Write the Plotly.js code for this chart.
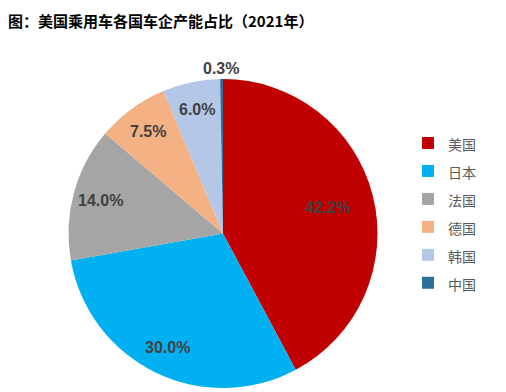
<!DOCTYPE html>
<html>
<head>
<meta charset="utf-8">
<script src="https://cdn.plot.ly/plotly-3.0.1.min.js"></script>
<style>html,body{margin:0;padding:0;background:#fff;}#chart{width:506px;height:392px;}</style>
</head>
<body>
<div id="chart"></div>
<script>
var countries = ["美国", "日本", "法国", "德国", "韩国", "中国"];
var shares = [42.2, 30.0, 14.0, 7.5, 6.0, 0.3];
var colors = ["#C00000", "#00B0F0", "#A5A5A5", "#F4B183", "#B4C7E7", "#2F6E9B"];
var titleText = "图：美国乘用车各国车企产能占比（2021年）";

var W = 506, H = 392;
// pie domain in pixels
var PX0 = 68, PX1 = 378, PY0 = 79, PY1 = 388;
var cx = (PX0 + PX1) / 2, cy = (PY0 + PY1) / 2;
var R = Math.min(PX1 - PX0, PY1 - PY0) / 2;

var legendLabels = countries.map(function (c) {
  return '<span style="font-size:14px">' + c + '</span>';
});

// data labels placed at each slice's mid-angle (clockwise from 12 o'clock)
var total = shares.reduce(function (a, b) { return a + b; }, 0);
var cum = 0;
var annotations = shares.map(function (v) {
  var mid = (cum + v / 2) / total * 2 * Math.PI;
  cum += v;
  var f = v < 1 ? 1.07 : (v > 35 ? 0.70 : 0.82);
  var px = cx + Math.sin(mid) * R * f;
  var py = cy - Math.cos(mid) * R * f;
  return {
    x: px / W, y: 1 - py / H, xref: "paper", yref: "paper",
    xanchor: "center", yanchor: "middle", showarrow: false,
    text: v.toFixed(1) + "%",
    font: { family: "Liberation Sans, Arial, sans-serif", size: 16, color: "#404040", weight: "bold" }
  };
});

var trace = {
  type: "pie",
  labels: legendLabels,
  values: shares,
  sort: false,
  direction: "clockwise",
  rotation: 0,
  marker: { colors: colors, line: { width: 0 } },
  textinfo: "none",
  hoverinfo: "none",
  domain: { x: [PX0 / W, PX1 / W], y: [1 - PY1 / H, 1 - PY0 / H] }
};

var layout = {
  width: W, height: H,
  margin: { l: 0, r: 0, t: 0, b: 0 },
  paper_bgcolor: "#fff",
  showlegend: true,
  annotations: annotations,
  title: {
    text: titleText,
    font: { family: "Noto Sans CJK SC, sans-serif", size: 15, color: "#000", weight: "bold" },
    x: 8 / W, xanchor: "left", xref: "paper",
    y: 1 - 22 / H, yanchor: "middle", yref: "container"
  },
  legend: {
    x: 408 / W, xanchor: "left",
    y: 1 - 124 / H, yanchor: "top",
    font: { family: "Noto Sans CJK SC, sans-serif", size: 19.2, color: "#595959" },
    bgcolor: "rgba(0,0,0,0)"
  }
};

Plotly.newPlot("chart", [trace], layout, { displayModeBar: false, staticPlot: true });
</script>
</body>
</html>
